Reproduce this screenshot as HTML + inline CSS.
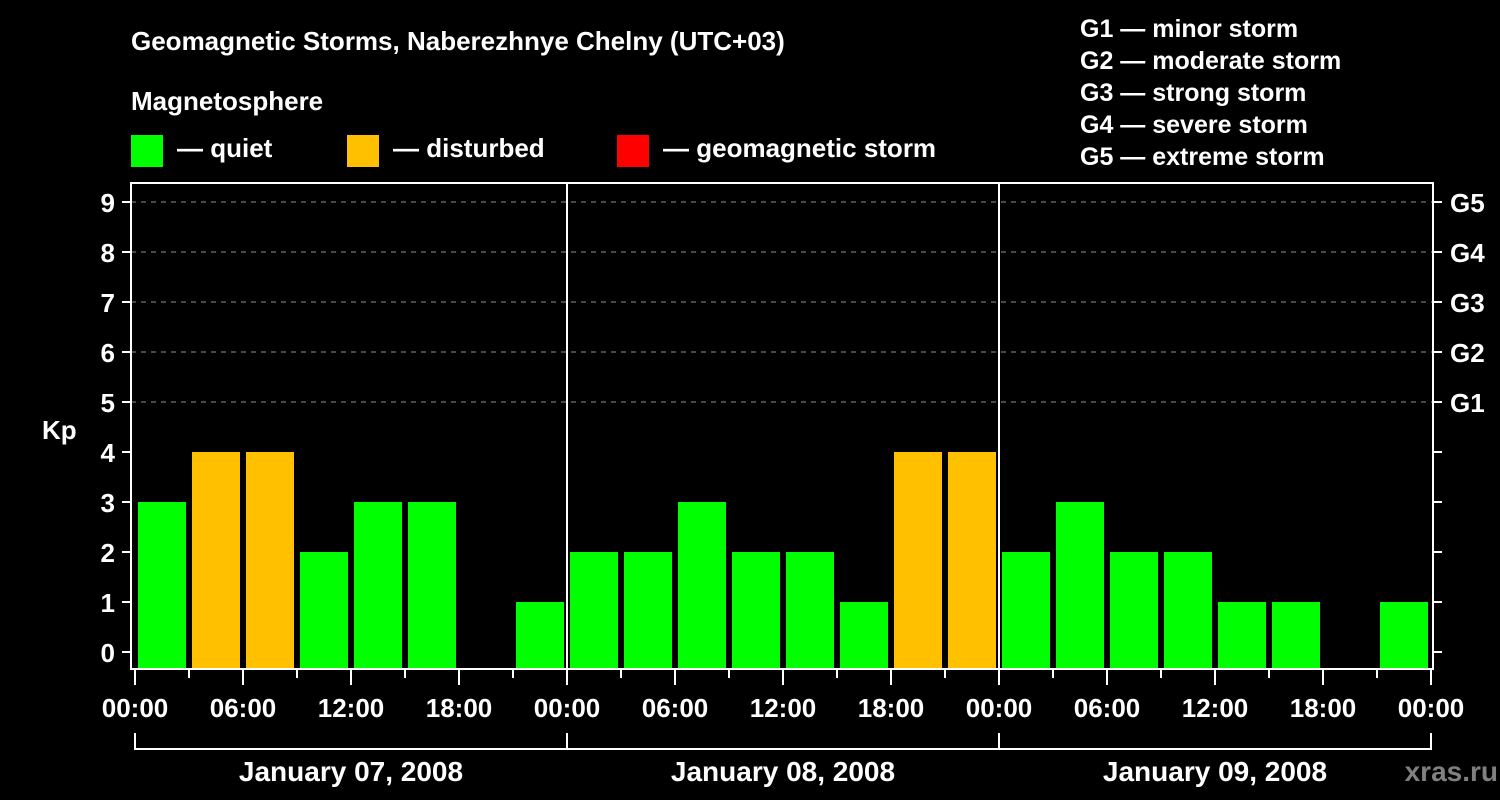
<!DOCTYPE html>
<html><head><meta charset="utf-8"><style>
html,body{margin:0;padding:0;background:#000;width:1500px;height:800px;overflow:hidden}
svg text{font-family:"Liberation Sans",Arial,sans-serif;font-weight:bold;fill:#fff}
</style></head><body>
<svg id="chart" width="1500" height="800" xmlns="http://www.w3.org/2000/svg">
<text x="131" y="50" font-size="26">Geomagnetic Storms, Naberezhnye Chelny (UTC+03)</text>
<text x="131" y="110" font-size="26">Magnetosphere</text>
<g><rect x="131" y="135" width="32" height="32" fill="#00ff00"/><text x="177" y="157" font-size="26">— quiet</text></g>
<g><rect x="347" y="135" width="32" height="32" fill="#ffc000"/><text x="393" y="157" font-size="26">— disturbed</text></g>
<g><rect x="617" y="135" width="32" height="32" fill="#ff0000"/><text x="663" y="157" font-size="26">— geomagnetic storm</text></g>
<g font-size="25">
<text x="1080" y="37">G1 — minor storm</text>
<text x="1080" y="69">G2 — moderate storm</text>
<text x="1080" y="101">G3 — strong storm</text>
<text x="1080" y="133">G4 — severe storm</text>
<text x="1080" y="165">G5 — extreme storm</text>
</g>
<text x="42" y="439" font-size="26">Kp</text>
<text x="1498" y="781" font-size="28" text-anchor="end" style="fill:#808080">xras.ru</text>
<g id="grid"></g><g id="bars"></g><g id="axes"></g>
</svg>
<script>
const days = ["January 07, 2008","January 08, 2008","January 09, 2008"];
const kpValues = [3,4,4,2,3,3,0,1, 2,2,3,2,2,1,4,4, 2,3,2,2,1,1,0,1];
const yTicks = [0,1,2,3,4,5,6,7,8,9];
const gLabels = ["G1","G2","G3","G4","G5"];
const gLevels = [5,6,7,8,9];
const xTickLabels = ["00:00","06:00","12:00","18:00"];

const NS="http://www.w3.org/2000/svg";
const X0=135, DAYW=432, SLOT=DAYW/8, PL=131, PR=1433, PT=183, PB=668;
const y = v => 652 - v*50;
const x = i => X0 + i*SLOT;
function mk(tag,attrs,parent,txt){const e=document.createElementNS(NS,tag);for(const k in attrs)e.setAttribute(k,attrs[k]);if(txt!==undefined)e.textContent=txt;parent.appendChild(e);return e;}
const grid=document.getElementById('grid'), bars=document.getElementById('bars'), axes=document.getElementById('axes');

gLevels.forEach((g,i)=>{
  const l=mk('line',{x1:PL,x2:PR,y1:y(g),y2:y(g),stroke:'#909090','stroke-width':1,'stroke-dasharray':'5,5'},grid);
  
  
  const t=mk('text',{x:1450,y:y(g)+10,'font-size':26},axes,gLabels[i]);
  
  
});

kpValues.forEach((v,i)=>{
  if(v<=0) return;
  const col = v>=5?'#ff0000':(v>=4?'#ffc000':'#00ff00');
  const r=mk('rect',{x:x(i)+3,y:y(v),width:SLOT-6,height:PB-y(v),fill:col},bars);
  
  
});

const frame=mk('rect',{x:PL,y:PT,width:PR-PL,height:PB-PT+1,fill:'none',stroke:'#fff','stroke-width':2},axes);


for(let d=1;d<days.length;d++){
  const l=mk('line',{x1:X0+d*DAYW,x2:X0+d*DAYW,y1:PT,y2:PB,stroke:'#fff','stroke-width':2},axes);
  
  
}
yTicks.forEach(v=>{
  mk('line',{x1:122,x2:PL,y1:y(v),y2:y(v),stroke:'#fff','stroke-width':2},axes);
  mk('line',{x1:PR,x2:1442,y1:y(v),y2:y(v),stroke:'#fff','stroke-width':2},axes);
  const t=mk('text',{x:115,y:y(v)+10,'font-size':26,'text-anchor':'end'},axes,String(v));
  
  
});
for(let i=0;i<=days.length*8;i++){
  const major=i%2===0;
  mk('line',{x1:x(i),x2:x(i),y1:PB,y2:major?685:678,stroke:'#fff','stroke-width':2},axes);
  if(major){
    const t=mk('text',{x:x(i),y:717,'font-size':26,'text-anchor':'middle'},axes,xTickLabels[(i/2)%4]);
    
    
  }
}
days.forEach((d,k)=>{
  const a=X0+k*DAYW, b=a+DAYW;
  mk('path',{d:`M${a},733V749H${b}V733`,stroke:'#fff','stroke-width':2,fill:'none'},axes);
  const t=mk('text',{x:(a+b)/2,y:781,'font-size':28,'text-anchor':'middle'},axes,d);
  
  
});
</script>
</body></html>
